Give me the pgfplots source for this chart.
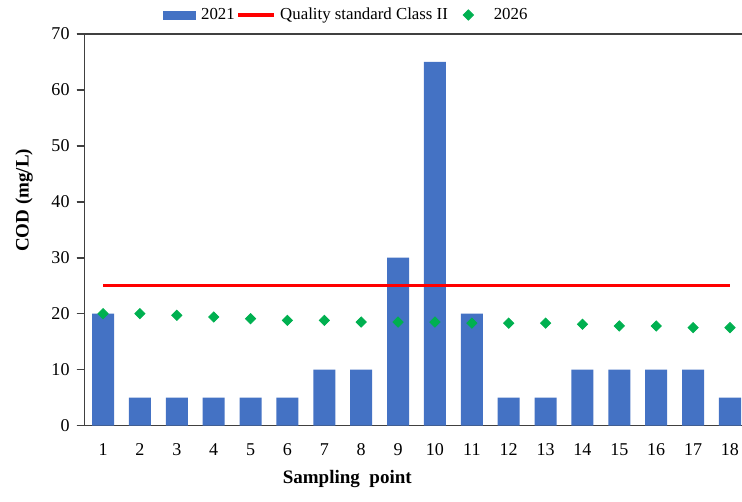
\documentclass[border=0pt]{standalone}
\usepackage{pgfplots}
\pgfplotsset{compat=1.18}
\usepackage{fontspec}
\setmainfont{Liberation Serif}

\definecolor{barblue}{HTML}{4472C4}
\definecolor{stdred}{HTML}{FF0000}
\definecolor{ptgreen}{HTML}{00B050}

\begin{document}
\begin{tikzpicture}
% page = 742 x 501 px at 0.5pt per px; right spine falls just outside
\path[use as bounding box] (-42.25pt,-38pt) rectangle (328.3pt,212.5pt);
\begin{axis}[
  at={(0pt,0pt)}, anchor=south west,
  scale only axis,
  width=328.75pt, height=195.5pt,
  xmin=0.5, xmax=18.35,
  ymin=0, ymax=70,
  xtick={1,...,18},
  ytick={0,10,...,70},
  tick align=outside,
  major tick length=4pt,
  xtick style={draw=none},
  ytick style={draw=black!75, line width=0.8pt},
  axis line style={black!75, line width=0.8pt},
  font=\fontsize{9}{10}\selectfont,
  /pgf/number format/assume math mode=true,
  x tick label style={yshift=-1.5pt},
  xlabel={\textbf{Sampling\ \ point}},
  ylabel={\textbf{COD (mg/L)}},
  xlabel style={at={(axis description cs:0.399,0)}, anchor=center, yshift=-26.5pt, font=\fontsize{9.5}{11}\selectfont},
  ylabel style={at={(axis description cs:0,0.575)}, anchor=center, yshift=30.25pt, font=\fontsize{9.5}{11}\selectfont},
  legend style={at={(39pt,205pt)}, anchor=west, draw=none, fill=none,
    legend columns=-1, font=\fontsize{8.4}{10}\selectfont,
    nodes={inner xsep=1pt},
    /tikz/every even column/.append style={column sep=0pt},
    /tikz/every odd column/.append style={column sep=1.5pt},
    inner sep=0pt},
]
\addplot[ybar, bar width=11pt, fill=barblue, draw=none,
  legend image code/.code={\fill[barblue] (0pt,-2.25pt) rectangle (16.5pt,2.25pt);}]
  coordinates {
    (1,20) (2,5) (3,5) (4,5) (5,5) (6,5) (7,10) (8,10) (9,30)
    (10,65) (11,20) (12,5) (13,5) (14,10) (15,10) (16,10) (17,10) (18,5)
  };
\addlegendentry{2021}
\addplot[stdred, line width=1.7pt,
  legend image code/.code={\draw[stdred, line width=1.7pt] (0pt,0pt) -- (17.5pt,0pt);}]
  coordinates {(1,25) (18,25)};
\addlegendentry{Quality standard Class II}
\addplot[only marks, mark=square*, mark size=1.8pt,
  mark options={rotate=45, fill=ptgreen, draw=ptgreen},
  legend image code/.code={\draw[mark repeat=1] plot[mark=square*, mark size=1.8pt, mark options={rotate=45, fill=ptgreen, draw=ptgreen}] coordinates {(9pt,0pt)}; \path (0pt,0pt) (19pt,0pt);}]
  coordinates {
    (1,20.0) (2,20.0) (3,19.7) (4,19.4) (5,19.1) (6,18.8) (7,18.8) (8,18.5) (9,18.5)
    (10,18.5) (11,18.3) (12,18.3) (13,18.3) (14,18.1) (15,17.8) (16,17.8) (17,17.5) (18,17.5)
  };
\addlegendentry{2026}
\end{axis}
% outward y tick marks on the left spine (every 10 units = 195.5pt/7)
\foreach \i in {0,...,7}
  \draw[black!75, line width=0.8pt] (-4pt,\i*27.9286pt) -- (0pt,\i*27.9286pt);
\end{tikzpicture}
\end{document}
